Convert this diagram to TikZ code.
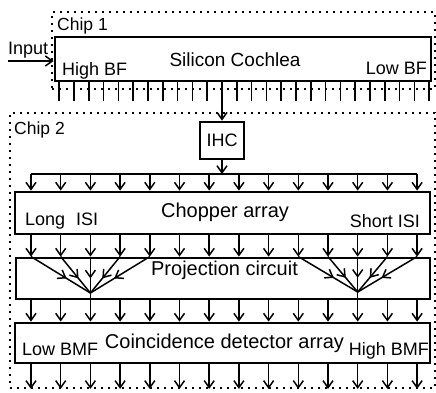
\documentclass[tikz,border=0pt]{standalone}
\usepackage{fontspec}
\setmainfont{Liberation Sans}
\usetikzlibrary{arrows.meta,decorations.markings}
\begin{document}
\begin{tikzpicture}[x=1pt,y=-1pt,
  box/.style={draw, line width=2.8pt, inner sep=0pt},
  chip/.style={draw, line width=1.8pt, dash pattern=on 1.8pt off 5.2pt, inner sep=0pt},
  tip/.tip={Straight Barb[length=7pt,width=10pt,line width=1.5pt]},
  arr/.style={line width=1.5pt, -tip},
  ln/.style={line width=1.5pt},
  fan/.style={ln, postaction={decorate}, decoration={markings, mark=at position 0.6 with {\arrow{tip}}}},
  big/.style={font=\fontsize{20}{24}\selectfont, inner sep=0pt},
  small/.style={font=\fontsize{18}{21}\selectfont, inner sep=0pt}]
\useasboundingbox (0,0) rectangle (436,392);

% chip outlines
\node (chip1) [chip, minimum width=383pt, minimum height=77pt] at (243.5,50.5) {};
\node (chip2) [chip, minimum width=425pt, minimum height=275pt] at (222.5,250.5) {};
\node (chip1lbl) [small, font=\fontsize{17.5}{21}\selectfont, anchor=base west] at (57,30) {Chip 1};
\node (chip2lbl) [small, font=\fontsize{17.5}{21}\selectfont, anchor=base west] at (14,134) {Chip 2};

% boxes
\node (coch) [box, minimum width=376pt, minimum height=44pt] at (243,59) {};
\node (ihc)  [box, minimum width=44pt, minimum height=37pt, small] at (222,140.5) {IHC};
\node (chop) [box, minimum width=415pt, minimum height=42pt] at (222.5,213) {};
\node (proj) [box, minimum width=414pt, minimum height=41pt] at (223,278.5) {};
\node (coin) [box, minimum width=415pt, minimum height=40pt] at (222.5,343) {};

% labels
\node (cochlbl) [big, font=\fontsize{19}{23}\selectfont, anchor=base] at (235,66) {Silicon Cochlea};
\node (highbf) [small, anchor=base west] at (62,75) {High BF};
\node (lowbf) [small, anchor=base east] at (427,74) {Low BF};
\node (choplbl) [big, anchor=base] at (225,217) {Chopper array};
\node (longisi) [small, anchor=base west] at (25,225) {Long\,\, ISI};
\node (shortisi) [small, anchor=base east] at (420,227) {Short ISI};
\node (projlbl) [big, anchor=base] at (224.5,275) {Projection circuit};
\node (coinlbl) [big, anchor=base] at (224.5,348) {Coincidence detector array};
\node (lowbmf) [small, anchor=base west] at (22,355) {Low BMF};
\node (highbmf) [small, anchor=base east] at (429,355) {High BMF};
\node (inputlbl) [small, anchor=base west] at (8,54) {Input};

% input arrow
\coordinate (inp) at (8,61);
\draw[arr] (inp) -- (inp -| coch.west);

% cochlea taps
\foreach \k in {0,...,25} {\coordinate (t\k) at ({59.2+14.8*\k},101);}
\foreach \k in {0,...,10,12,13,...,25} {\draw[ln] (t\k |- coch.south) -- (t\k);}
\draw[arr] (coch.south -| ihc.north) -- (ihc.north);

% column coordinates
\foreach \k in {0,...,13} {\coordinate (c\k) at ({31+29.7*\k},0);}
\coordinate (busL) at (31,174);
\coordinate (busR) at (417,174);

% IHC to bus
\draw[arr] (ihc.south) -- (ihc.south |- busL);
\draw[ln] (busL) -- (busR);

% bus to chopper, chopper to projection, projection to coincidence, outputs
\foreach \k in {0,...,13} {
  \draw[arr] (c\k |- busL) -- (c\k |- chop.north);
  \draw[arr] (c\k |- chop.south) -- (c\k |- proj.north);
  \draw[arr] (c\k |- proj.south) -- (c\k |- coin.north);
  \draw[arr] (c\k |- coin.south) -- (c\k |- chip2.south);
}

% projection fans
\path (c2) ++(0,293) coordinate (L);
\path (c11) ++(0,292) coordinate (R);
\foreach \k in {0,...,4} {\draw[fan] (c\k |- proj.north) -- (L);}
\foreach \k in {9,...,13} {\draw[fan] (c\k |- proj.north) -- (R);}
\draw[ln] (L) -- (L |- proj.south);
\draw[ln] (R) -- (R |- proj.south);
\end{tikzpicture}
\end{document}
